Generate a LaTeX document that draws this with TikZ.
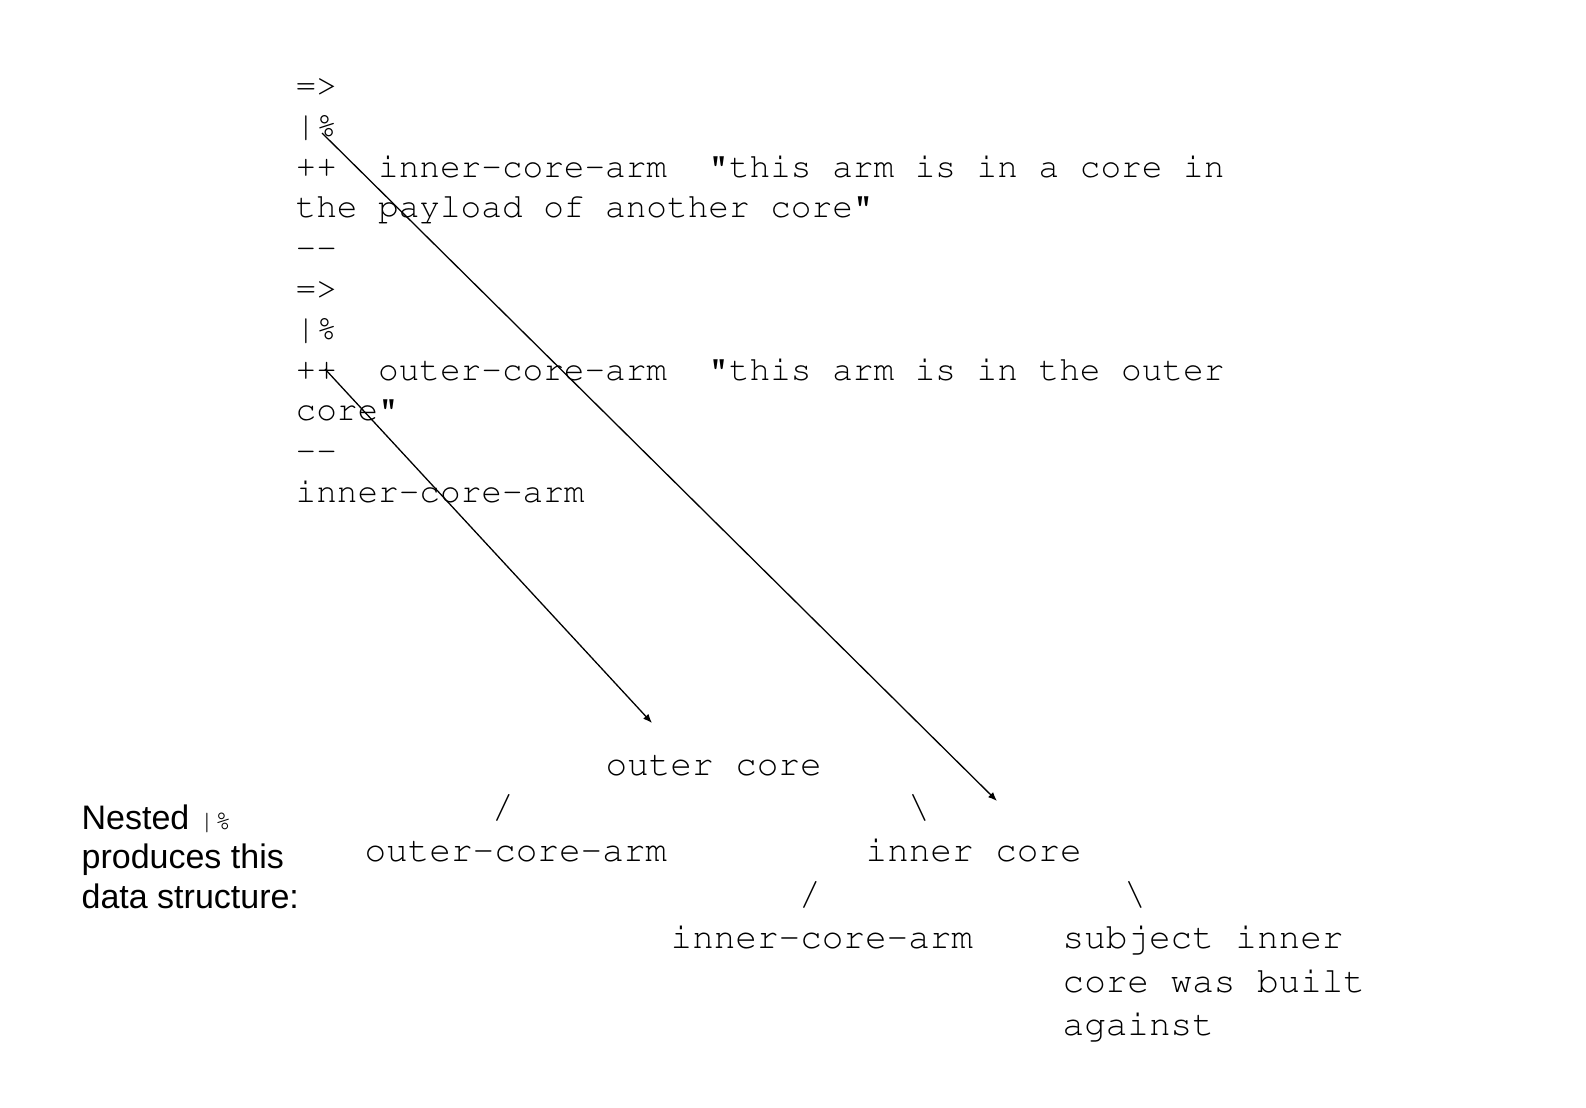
\documentclass[tikz,border=0pt]{standalone}
\usepackage[T1]{fontenc}
\usepackage{fontspec}
\usepackage{tikz}
\usetikzlibrary{arrows.meta}
\newfontfamily\labelfont{Liberation Sans}
\newcommand\codefont{\fontencoding{T1}\fontfamily{pcr}\selectfont}

\tikzset{
  codeline/.style={anchor=base west, inner sep=0pt, font=\codefont\fontsize{17.2}{20.3}\selectfont},
  treetext/.style={anchor=base west, inner sep=0pt, font=\codefont\fontsize{18}{21.7}\selectfont},
  branch/.style={anchor=base, inner sep=0pt, font=\codefont\fontsize{18}{21.7}\selectfont},
  sidetext/.style={anchor=base west, inner sep=0pt, font=\labelfont\fontsize{17}{20}\selectfont},
}

\begin{document}
\begin{tikzpicture}[x=0.5pt, y=-0.5pt, line width=0.65pt]
\useasboundingbox (0,0) rectangle (1586,1108);

% the nested code
\node[codeline] (open1) at (295,96) {=>};
\node[codeline] (bar1) at (295,136.6) {|\%};
\node[codeline] (arm1) at (295,177.2) {++\ \ inner-core-arm\ \ "this arm is in a core in};
\node[codeline] (arm1b) at (295,217.8) {the payload of another core"};
\node[codeline] (end1) at (295,258.4) {-{}-};
\node[codeline] (open2) at (295,299) {=>};
\node[codeline] (bar2) at (295,339.6) {|\%};
\node[codeline] (arm2) at (295,380.2) {++\ \ outer-core-arm\ \ "this arm is in the outer};
\node[codeline] (arm2b) at (295,420.8) {core"};
\node[codeline] (end2) at (295,461.4) {-{}-};
\node[codeline] (subj) at (295,502) {inner-core-arm};

% side label
\node[sidetext] (nested) at (81,829) {Nested {\codefont\fontsize{13.5}{16}\selectfont|\%}};
\node[sidetext] (produces) at (81,868.5) {produces this};
\node[sidetext] (datastr) at (81,908) {data structure:};

% the tree
\node[treetext] (outer) at (605,775) {outer core};
\node[branch] (outerl) at (503,818) {/};
\node[branch] (outerr) at (919,818) {\textbackslash};
\node[treetext] (outerarm) at (364,861) {outer-core-arm};
\node[treetext] (inner) at (865,861) {inner core};
\node[branch] (innerl) at (810,905) {/};
\node[branch] (innerr) at (1135,905) {\textbackslash};
\node[treetext] (innerarm) at (670,948) {inner-core-arm};
\node[treetext] (subja) at (1062,948) {subject inner};
\node[treetext] (subjb) at (1062,992) {core was built};
\node[treetext] (subjc) at (1062,1035) {against};

% arrows
\coordinate (innerfrom) at (322,133);
\coordinate (innerto) at (997,801);
\coordinate (outerfrom) at (325,369);
\coordinate (outerto) at (652,723);
\draw[-{Latex[length=4.5pt,width=3.6pt]}] (innerfrom) -- (innerto);
\draw[-{Latex[length=4.5pt,width=3.6pt]}] (outerfrom) -- (outerto);
\end{tikzpicture}
\end{document}
